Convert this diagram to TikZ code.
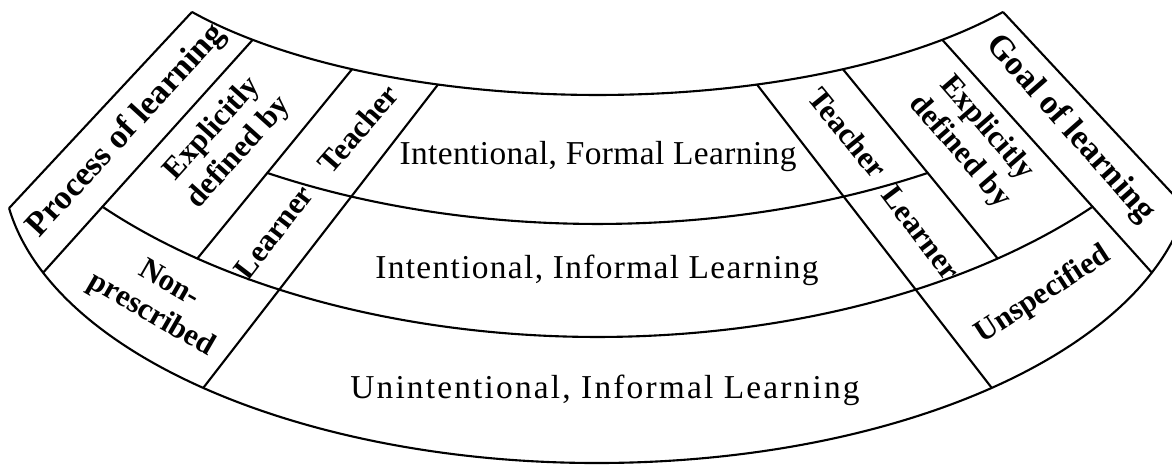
\documentclass[tikz,border=0pt]{standalone}
\usepackage{fontspec}
\setmainfont{Liberation Serif}
\usetikzlibrary{calc}

\begin{document}
\begin{tikzpicture}[x=0.01cm,y=0.01cm,line width=0.6pt,
  head/.style={font=\fontsize{9.7}{10.3}\selectfont\bfseries, inner sep=0pt},
  side/.style={font=\fontsize{8.8}{10.1}\selectfont\bfseries, align=center, inner sep=0pt},
  band/.style={font=\fontsize{9.5}{11}\selectfont\addfontfeatures{LetterSpace=#1}, inner sep=0pt}]

  \useasboundingbox (0,-465) rectangle (1172,0);

  % centres of the four arcs
  \coordinate (cA) at (597.5,105);
  \coordinate (cB) at (597.5,144);
  \coordinate (cC) at (597.5,33);
  \coordinate (cD) at (597.5,-164);

  % corners on the inner arc
  \coordinate (tL0) at ($(cA)+(-144.2:500 and 200)$);
  \coordinate (tL1) at ($(cA)+(-133.6:500 and 200)$);
  \coordinate (tL2) at ($(cA)+(-119.4:500 and 200)$);
  \coordinate (tL3) at ($(cA)+(-108.6:500 and 200)$);
  \coordinate (tR3) at ($(cA)+(-71.4:500 and 200)$);
  \coordinate (tR2) at ($(cA)+(-60.6:500 and 200)$);
  \coordinate (tR1) at ($(cA)+(-46.4:500 and 200)$);
  \coordinate (tR0) at ($(cA)+(-35.8:500 and 200)$);
  % corners on the middle arcs
  \coordinate (mL2) at ($(cB)+(-120.6:650 and 368)$);
  \coordinate (mR2) at ($(cB)+(-59.4:650 and 368)$);
  \coordinate (lL1) at ($(cC)+(-139.5:650 and 370)$);
  \coordinate (lL2) at ($(cC)+(-128.0:650 and 370)$);
  \coordinate (lR2) at ($(cC)+(-52.0:650 and 370)$);
  \coordinate (lR1) at ($(cC)+(-40.5:650 and 370)$);
  % corners on the outer arc
  \coordinate (bL0) at ($(cD)+(-171.5:595 and 299)$);
  \coordinate (bL1) at ($(cD)+(-158.7:595 and 299)$);
  \coordinate (bL3) at ($(cD)+(-131.5:595 and 299)$);
  \coordinate (bR3) at ($(cD)+(-48.5:595 and 299)$);
  \coordinate (bR1) at ($(cD)+(-21.3:595 and 299)$);
  \coordinate (bR0) at ($(cD)+(-8.5:595 and 299)$);

  \draw (tL0) arc[start angle=-144.2, end angle=-35.8, x radius=500, y radius=200];
  \draw (mL2) arc[start angle=-120.6, end angle=-59.4, x radius=650, y radius=368];
  \draw (lL1) arc[start angle=-139.5, end angle=-40.5, x radius=650, y radius=370];
  \draw (bL0) arc[start angle=-171.5, end angle=-8.5, x radius=595, y radius=299];

  \foreach \from/\to in {tL0/bL0, tL1/bL1, tL2/lL2, tL3/bL3, tR3/bR3, tR2/lR2, tR1/bR1, tR0/bR0}
    \draw (\from) -- (\to);

  \node[head, rotate=47.5] (process) at (127,-131) {Process of learning};
  \node[side, rotate=48] (explL) at (226,-141) {Explicitly\\defined by};
  \node[side, rotate=49] (teachL) at (358,-129) {Teacher};
  \node[side, rotate=52.5] (learnL) at (274,-232) {Learner};
  \node[side, rotate=-30] (nonpre) at (160,-300) {Non-\\prescribed};

  \node[head, rotate=-48.5] (goal) at (1070,-129) {Goal of learning};
  \node[side, rotate=-49] (explR) at (973,-140) {Explicitly\\defined by};
  \node[side, rotate=-51] (teachR) at (848,-133) {Teacher};
  \node[side, rotate=-53] (learnR) at (921,-233) {Learner};
  \node[side, rotate=33] (unspec) at (1043,-295) {Unspecified};

  \node[band=1.2] (formal) at (598,-157) {Intentional, Formal Learning};
  \node[band=4] (informal) at (597,-270) {Intentional, Informal Learning};
  \node[band=6.5] (unint) at (605,-390) {Unintentional, Informal Learning};

\end{tikzpicture}
\end{document}
